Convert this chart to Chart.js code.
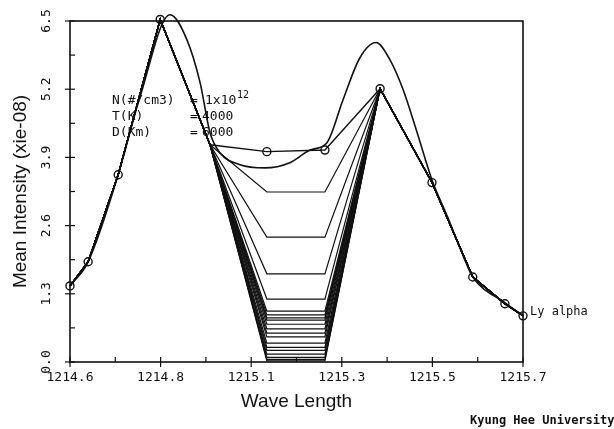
<!DOCTYPE html>
<html>
<head>
<meta charset="utf-8">
<script src="https://cdn.jsdelivr.net/npm/chart.js@4"></script>
<style>
  body { margin: 0; background: #fff; }
  #wrap { width: 614px; height: 429px; }
</style>
</head>
<body>
<div id="wrap"><canvas id="profileChart"></canvas></div>
<script>
// wavelengths where the model profiles were computed
const waveX = [1214.600, 1214.644, 1214.717, 1214.819, 1214.940, 1215.078, 1215.219, 1215.353, 1215.479, 1215.578, 1215.656, 1215.700];
// profile drawn with circles
const topProfile = [1.45, 1.91, 3.57, 6.53, 4.14, 4.01, 4.04, 5.21, 3.42, 1.62, 1.11, 0.88];
// shared wings of the other profiles (null = line centre, filled with the floor level)
const sharedProfile = [1.45, 1.91, 3.57, 6.53, 4.14, null, null, 5.21, 3.42, 1.62, 1.11, 0.88];
const floorLevels = [3.24, 2.38, 1.68, 1.20, 0.97, 0.90, 0.84, 0.80, 0.72, 0.63, 0.55, 0.48, 0.36, 0.28, 0.22, 0.15, 0.09, 0.05, 0.02];
// smooth outer curve
const envX = [1214.600, 1214.644, 1214.717, 1214.770, 1214.843, 1214.884, 1214.916, 1214.940, 1214.964, 1215.013, 1215.073, 1215.134, 1215.183, 1215.224, 1215.263, 1215.304, 1215.343, 1215.377, 1215.409, 1215.443, 1215.479, 1215.515, 1215.564, 1215.578, 1215.656, 1215.700];
const envY = [1.45, 1.91, 3.57, 5.05, 6.62, 6.14, 5.32, 4.37, 3.99, 3.76, 3.70, 3.80, 4.04, 4.18, 5.00, 5.80, 6.09, 5.76, 5.19, 4.37, 3.47, 2.80, 1.85, 1.62, 1.13, 0.88];

const xTickValues = [1214.6, 1214.82, 1215.04, 1215.26, 1215.48, 1215.7];
const xTickLabels = ['1214.6', '1214.8', '1215.1', '1215.3', '1215.5', '1215.7'];
const yTickValues = [0, 1.3, 2.6, 3.9, 5.2, 6.5];
const yTickLabels = ['0.0', '1.3', '2.6', '3.9', '5.2', '6.5'];

const mono = '"DejaVu Sans Mono", monospace';
const ink = '#111';

const datasets = [];
floorLevels.forEach(level => {
  datasets.push({
    data: waveX.map((x, i) => ({ x: x, y: sharedProfile[i] === null ? level : sharedProfile[i] })),
    borderColor: ink,
    borderWidth: 1.2,
    pointRadius: 0,
    tension: 0,
    clip: false
  });
});
datasets.push({
  data: waveX.map((x, i) => ({ x: x, y: topProfile[i] })),
  borderColor: ink,
  borderWidth: 1.4,
  pointRadius: waveX.map((x, i) => i === 4 ? 0 : 4),
  pointBorderColor: ink,
  pointBackgroundColor: 'rgba(255,255,255,0)',
  pointBorderWidth: 1.4,
  tension: 0,
  clip: false
});
datasets.push({
  data: envX.map((x, i) => ({ x: x, y: envY[i] })),
  borderColor: ink,
  borderWidth: 1.6,
  pointRadius: 0,
  cubicInterpolationMode: 'monotone',
  clip: false
});

// frame, tick marks, tick labels and notes
const framePlugin = {
  id: 'frame',
  beforeDatasetsDraw(chart) {
    const { ctx, chartArea: a, scales: { x, y } } = chart;
    ctx.save();
    ctx.strokeStyle = ink;
    ctx.lineWidth = 1.6;
    ctx.strokeRect(a.left, a.top, a.right - a.left, a.bottom - a.top);
    ctx.lineWidth = 1.2;
    xTickValues.forEach((v, i) => {
      const px = x.getPixelForValue(v);
      ctx.beginPath(); ctx.moveTo(px, a.bottom - 5); ctx.lineTo(px, a.bottom + 5); ctx.stroke();
      if (i < xTickValues.length - 1) {
        const mx = x.getPixelForValue((v + xTickValues[i + 1]) / 2);
        ctx.beginPath(); ctx.moveTo(mx, a.bottom); ctx.lineTo(mx, a.bottom - 5); ctx.stroke();
      }
    });
    yTickValues.forEach((v, i) => {
      const py = y.getPixelForValue(v);
      ctx.beginPath(); ctx.moveTo(a.left - 5, py); ctx.lineTo(a.left + 5, py); ctx.stroke();
      if (i < yTickValues.length - 1) {
        const my = y.getPixelForValue((v + yTickValues[i + 1]) / 2);
        ctx.beginPath(); ctx.moveTo(a.left, my); ctx.lineTo(a.left + 5, my); ctx.stroke();
      }
    });
    ctx.restore();
  },
  afterDraw(chart) {
    const { ctx, chartArea: a, scales: { x, y } } = chart;
    ctx.save();
    ctx.fillStyle = ink;
    ctx.font = '13px ' + mono;
    ctx.textAlign = 'center';
    ctx.textBaseline = 'middle';
    xTickValues.forEach((v, i) => {
      ctx.fillText(xTickLabels[i], x.getPixelForValue(v), a.bottom + 16);
    });
    yTickValues.forEach((v, i) => {
      ctx.save();
      ctx.translate(a.left - 23, y.getPixelForValue(v));
      ctx.rotate(-Math.PI / 2);
      ctx.fillText(yTickLabels[i], 0, 0);
      ctx.restore();
    });
    // model parameters
    ctx.textAlign = 'left';
    ctx.font = '13px ' + mono;
    ctx.fillText('N(#/cm3)', 112, 101);
    ctx.fillText('T(K)', 112, 117);
    ctx.fillText('D(Km)', 112, 133);
    ctx.fillText('=', 190, 101);
    ctx.fillText('=', 190, 117);
    ctx.fillText('=', 190, 133);
    ctx.fillText('1x10', 205, 101);
    ctx.fillText('4000', 202, 117);
    ctx.fillText('6000', 202, 133);
    ctx.font = '10px ' + mono;
    ctx.fillText('12', 237, 95);
    ctx.font = '12px ' + mono;
    ctx.fillText('Ly alpha', 530, 312);
    ctx.font = 'bold 12px ' + mono;
    ctx.fillText('Kyung Hee University', 470, 421);
    ctx.restore();
  }
};

new Chart(document.getElementById('profileChart'), {
  type: 'line',
  data: { datasets: datasets },
  options: {
    responsive: true,
    maintainAspectRatio: false,
    animation: false,
    layout: { padding: { left: 0, right: 91, top: 21, bottom: 0 } },
    plugins: { legend: { display: false }, tooltip: { enabled: false } },
    scales: {
      x: {
        type: 'linear',
        min: 1214.6,
        max: 1215.7,
        grid: { display: false, drawTicks: false },
        border: { display: false },
        ticks: { display: false },
        title: {
          display: true,
          text: 'Wave Length',
          color: ink,
          font: { family: '"Liberation Sans", Arial, sans-serif', size: 19, lineHeight: 1.2 },
          padding: { top: 28.6, bottom: 15.6 }
        }
      },
      y: {
        min: 0,
        max: 6.5,
        grid: { display: false, drawTicks: false },
        border: { display: false },
        ticks: { display: false },
        title: {
          display: true,
          text: 'Mean Intensity (xie-08)',
          color: ink,
          font: { family: '"Liberation Sans", Arial, sans-serif', size: 19, lineHeight: 1.2 },
          padding: { top: 9.6, bottom: 37.6 }
        }
      }
    }
  },
  plugins: [framePlugin]
});
</script>
</body>
</html>
